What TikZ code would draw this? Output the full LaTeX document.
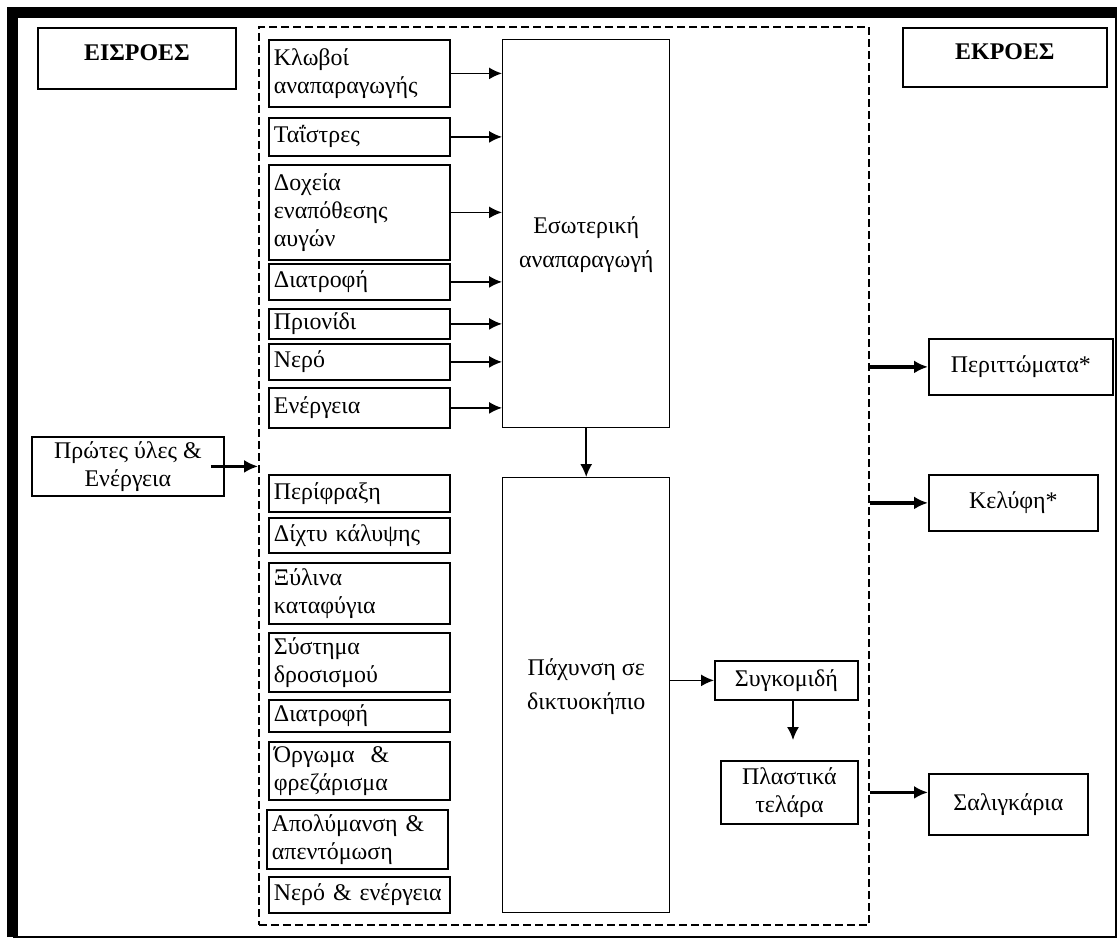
\documentclass[tikz,border=0pt]{standalone}
\usepackage{fontspec}
\setmainfont{Liberation Serif}
\usetikzlibrary{arrows.meta}

\begin{document}
\begin{tikzpicture}[x=1bp, y=-1bp]
    \tikzset{>={Latex[length=13bp,width=12bp]}}
    \tikzset{
      box/.style={draw, line width=1.8bp, font=\fontsize{24}{28}\selectfont, inner sep=1bp},
      leftbox/.style={box, anchor=north west, text width=171bp, inner xsep=5bp, align=left},
      bigbox/.style={draw, line width=1.4bp, anchor=north west, minimum width=167bp},
      bigtext/.style={font=\fontsize{24}{34}\selectfont, align=center},
      headbox/.style={box, anchor=north west, font=\fontsize{24}{28}\selectfont\bfseries,
        text height=16bp, text depth=11bp},
      outbox/.style={box, anchor=north west, align=center},
      flow/.style={->, line width=1.5bp},
      bigflow/.style={-{Latex[length=14bp,width=13bp]}, line width=3.5bp},
    }
    \useasboundingbox (0,0) rectangle (1118,940);
    % outer frame
    \draw [line width=11bp] (12.5,937) -- (12.5,12.5) -- (1117,12.5);
    \draw [line width=2bp] (1116,12.5) -- (1116,937) -- (12.5,937);
    % system boundary
    \node [draw, dashed, dash pattern=on 8bp off 4bp, line width=1.8bp,
      minimum width=610bp, minimum height=898bp] (system) at (564,476) {};
    % headers
    \node [headbox, minimum width=198bp, minimum height=61bp] (eisroes) at (37,27) {ΕΙΣΡΟΕΣ};
    \node [headbox, minimum width=204bp, minimum height=59bp] (ekroes) at (902,27) {ΕΚΡΟΕΣ};
    \node [outbox, minimum width=192bp, minimum height=59bp] (prwtes) at (31,436) {Πρώτες ύλες \&\\Ενέργεια};
    % equipment for breeding
    \node [leftbox, minimum height=67bp] (klovoi) at (268,39) {Κλωβοί\\αναπαραγωγής};
    \node [leftbox, minimum height=38bp] (taistres) at (268,117) {Ταΐστρες};
    \node [leftbox, minimum height=95bp] (docheia) at (268,164) {Δοχεία\\εναπόθεσης\\αυγών};
    \node [leftbox, minimum height=36bp] (diatrofiA) at (268,263) {Διατροφή};
    \node [leftbox, minimum height=30bp] (prionidi) at (268,308) {Πριονίδι};
    \node [leftbox, minimum height=36bp] (nero) at (268,343) {Νερό};
    \node [leftbox, minimum height=40bp] (energeia) at (268,387) {Ενέργεια};
    % equipment for fattening
    \node [leftbox, minimum height=37bp] (perifraxi) at (268,474) {Περίφραξη};
    \node [leftbox, minimum height=35bp] (dichty) at (268,517) {Δίχτυ κάλυψης};
    \node [leftbox, minimum height=61bp] (xylina) at (268,562) {Ξύλινα\\καταφύγια};
    \node [leftbox, minimum height=59bp] (systima) at (268,632) {Σύστημα\\δροσισμού};
    \node [leftbox, minimum height=32bp] (diatrofiB) at (268,699) {Διατροφή};
    \node [leftbox, minimum height=58bp] (orgoma) at (268,741) {Όργωμα~ \&\\φρεζάρισμα};
    \node [leftbox, minimum height=59bp] (apolymansi) at (266,809) {Απολύμανση \&\\απεντόμωση};
    \node [leftbox, minimum height=36bp] (neroenerg) at (268,876) {Νερό \& ενέργεια};
    % stages
    \node [bigbox, minimum height=388bp,
      label={[bigtext, yshift=-11bp]center:{Εσωτερική\\αναπαραγωγή}}] (esot) at (502,39) {};
    \node [bigbox, minimum height=435bp,
      label={[bigtext, yshift=9bp]center:{Πάχυνση σε\\δικτυοκήπιο}}] (pachynsi) at (502,477) {};
    \node [outbox, minimum width=143bp, minimum height=39bp] (sygk) at (714,660) {Συγκομιδή};
    \node [outbox, minimum width=137bp, minimum height=63bp] (plastika) at (720,760) {Πλαστικά\\τελάρα};
    \coordinate (sygkend) at (793,740);
    % outputs
    \node [outbox, minimum width=184bp, minimum height=56bp] (perit) at (928,338) {Περιττώματα*};
    \node [outbox, minimum width=169bp, minimum height=56bp] (kelyfi) at (928,474) {Κελύφη*};
    \node [outbox, minimum width=159bp, minimum height=61bp] (salig) at (928,773) {Σαλιγκάρια};
    % arrows
    \draw [flow] (klovoi.east) -- (klovoi.east -| esot.west);
    \draw [flow] (taistres.east) -- (taistres.east -| esot.west);
    \draw [flow] (docheia.east) -- (docheia.east -| esot.west);
    \draw [flow] (diatrofiA.east) -- (diatrofiA.east -| esot.west);
    \draw [flow] (prionidi.east) -- (prionidi.east -| esot.west);
    \draw [flow] (nero.east) -- (nero.east -| esot.west);
    \draw [flow] (energeia.east) -- (energeia.east -| esot.west);
    \draw [flow] (esot) -- (pachynsi);
    \draw [flow] (pachynsi.east |- sygk) -- (sygk.west);
    \draw [flow] (sygk.south -| sygkend) -- (sygkend);
    \draw [bigflow] ([xshift=-14bp]prwtes.east) -- (prwtes.east -| system.west);
    \draw [bigflow] (system.east |- perit) -- (perit.west);
    \draw [bigflow] (system.east |- kelyfi) -- (kelyfi.west);
    \draw [bigflow] (system.east |- plastika) -- (plastika.east -| salig.west);
\end{tikzpicture}
\end{document}
